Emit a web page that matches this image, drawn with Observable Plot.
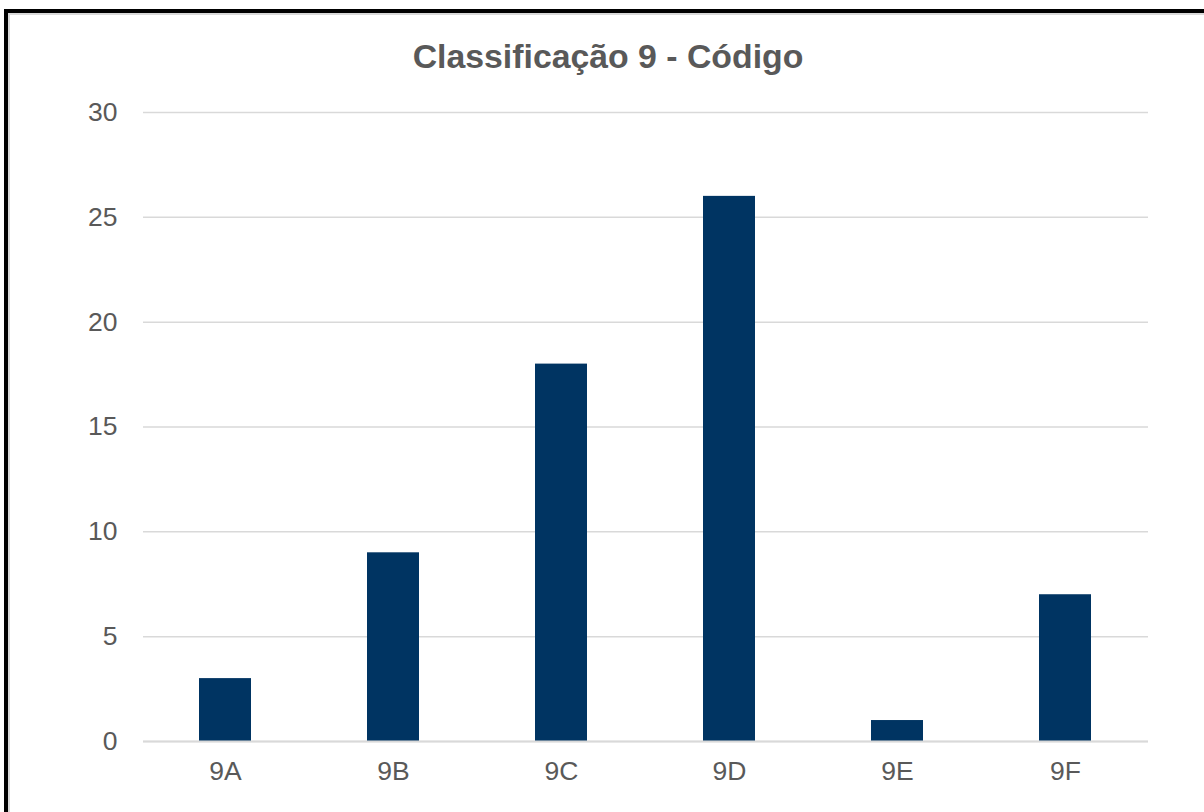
<!DOCTYPE html>
<html>
<head>
<meta charset="utf-8">
<script src="https://cdn.jsdelivr.net/npm/d3@7"></script>
<script src="https://cdn.jsdelivr.net/npm/@observablehq/plot@0.6"></script>
<style>
  html, body { margin: 0; padding: 0; background: #fff; overflow: hidden; width: 1204px; height: 812px; }
  #frame { position: absolute; left: 4px; top: 9px; width: 1300px; height: 900px;
           border: 4px solid #000; box-shadow: inset 0 0 0 2px #d9d9d9; box-sizing: border-box; }
  #title { position: absolute; left: 0; top: 36px; width: 1216px; text-align: center;
           font-family: "Liberation Sans", Arial, sans-serif; font-weight: bold; font-size: 33.8px;
           color: #595959; line-height: 40px; }
  #chart { position: absolute; left: 0; top: 90px; }
</style>
</head>
<body>
<div id="frame"></div>
<div id="title">Classificação 9 - Código</div>
<div id="chart"></div>
<script>
const categories = ["9A", "9B", "9C", "9D", "9E", "9F"];
const values = [3, 9, 18, 26, 1, 7];
const yTicks = [0, 5, 10, 15, 20, 25, 30];

const data = categories.map((c, i) => ({category: c, value: values[i]}));

const plot = Plot.plot({
  width: 1204,
  height: 722,
  marginTop: 22,
  marginBottom: 71,
  marginLeft: 143,
  marginRight: 56,
  style: {fontFamily: "'Liberation Sans', Arial, sans-serif", fontSize: "26.5px", color: "#595959", background: "transparent"},
  x: {domain: categories, paddingInner: 0.69, paddingOuter: 0.335, label: null, tickSize: 0, tickPadding: 20},
  y: {domain: [0, 30], ticks: yTicks, label: null, tickSize: 0, tickPadding: 26},
  marks: [
    Plot.gridY(yTicks, {stroke: "#d9d9d9", strokeOpacity: 1, strokeWidth: 1.5}),
    Plot.barY(data, {x: "category", y: "value", fill: "#003462"}),
    Plot.ruleY([0], {stroke: "#d9d9d9", strokeWidth: 2})
  ]
});
plot.querySelectorAll("text").forEach(t => t.setAttribute("fill", "#595959"));
document.getElementById("chart").appendChild(plot);
</script>
</body>
</html>
